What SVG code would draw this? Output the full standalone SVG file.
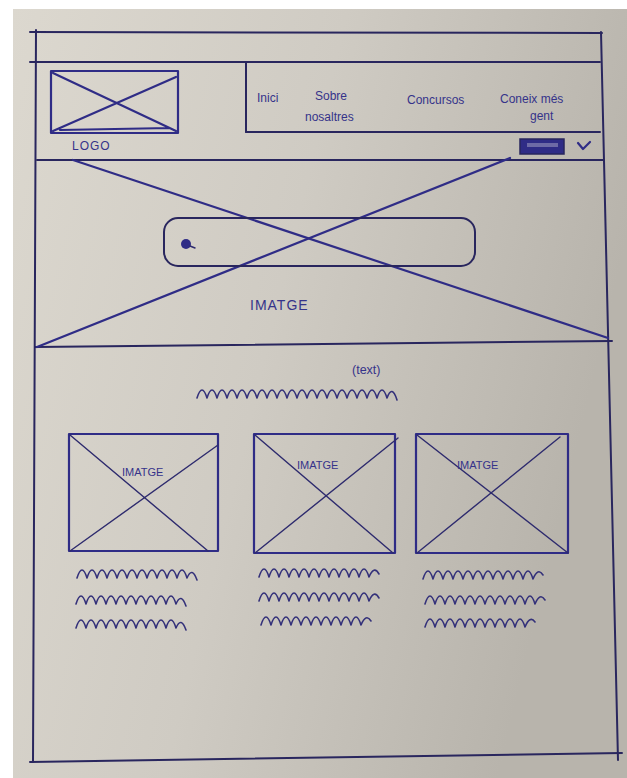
<svg xmlns="http://www.w3.org/2000/svg" width="627" height="778" viewBox="0 0 627 778">
<defs>
<linearGradient id="paper" x1="0" y1="0" x2="1" y2="0.3">
<stop offset="0" stop-color="#dcd8cf"/>
<stop offset="0.5" stop-color="#cfcbc3"/>
<stop offset="1" stop-color="#b8b4ac"/>
</linearGradient>
<style>
.ink{fill:none;stroke:#29265e;stroke-width:2;stroke-linecap:round;stroke-linejoin:round}
.thin{fill:none;stroke:#2e2b6e;stroke-width:1.4;stroke-linecap:round;stroke-linejoin:round}
.blue{fill:none;stroke:#2f2c86;stroke-width:2.2;stroke-linecap:round;stroke-linejoin:round}
.wave{fill:none;stroke:#34317a;stroke-width:1.6;stroke-linecap:round;stroke-linejoin:round}
.hand{font-family:"Liberation Sans","DejaVu Sans",sans-serif;fill:#35338a}
</style>
</defs>
<rect x="0" y="0" width="627" height="778" fill="#ffffff"/>
<rect x="13" y="9" width="614" height="769" fill="url(#paper)"/>

<g id="page-frame">
<path class="ink" d="M30 32 L602 33"/>
<path class="ink" d="M36 30 L33 762"/>
<path class="ink" d="M601 32 L618 760"/>
<path class="ink" d="M30 762 L622 753"/>
</g>

<g id="top-bar">
<path class="ink" d="M30 62 L600 62"/>
</g>

<g id="logo">
<rect class="blue" x="51" y="71" width="127" height="62"/>
<path class="blue" d="M53 73 L176 131 M53 131 L176 77 M60 130 L170 128"/>
<text class="hand" x="72" y="150" font-size="12" letter-spacing="1">LOGO</text>
</g>

<g id="nav-menu">
<path class="ink" d="M246 63 L246 132"/>
<path class="ink" d="M246 132 L600 132"/>
<text class="hand" x="257" y="102" font-size="12">Inici</text>
<text class="hand" x="315" y="100" font-size="12">Sobre</text>
<text class="hand" x="305" y="121" font-size="12">nosaltres</text>
<text class="hand" x="407" y="104" font-size="12">Concursos</text>
<text class="hand" x="500" y="103" font-size="12">Coneix més</text>
<text class="hand" x="530" y="120" font-size="12">gent</text>
</g>

<g id="language-selector">
<rect x="520" y="139" width="44" height="15" fill="#2f2c86" stroke="#29265e" stroke-width="1.5"/>
<rect x="527" y="143" width="31" height="4" fill="#6d6aa6"/>
<path class="blue" d="M578 143 L583 149 L590 142"/>
</g>

<g id="hero-image">
<path class="ink" d="M37 160 L603 160"/>
<path class="ink" d="M35 347 L612 341"/>
<path class="blue" d="M73 160 L608 338"/>
<path class="blue" d="M37 347 L510 158"/>
<text class="hand" x="250" y="310" font-size="14" letter-spacing="1">IMATGE</text>
</g>

<g id="search-bar">
<rect class="ink" x="164" y="218" width="311" height="48" rx="14"/>
<circle cx="186" cy="244" r="5" fill="#2f2c86"/>
<path class="thin" d="M190 246 L195 248"/>
</g>

<g id="intro-text">
<text class="hand" x="352" y="374" font-size="12.5">(text)</text>
<path class="wave" d="M197 398 q5 -16 10 0 q5 -16 10 0 q5 -16 10 0 q5 -16 10 0 q5 -16 10 0 q5 -16 10 0 q5 -16 10 0 q5 -16 10 0 q5 -16 10 0 q5 -16 10 0 q5 -16 10 0 q5 -16 10 0 q5 -16 10 0 q5 -16 10 0 q5 -16 10 0 q5 -16 10 0 q5 -16 10 0 q5 -16 10 0 q5 -16 10 0 q5 -14 10 2"/>
</g>

<g id="card-1">
<rect class="blue" x="69" y="434" width="149" height="117"/>
<path class="thin" d="M70 435 L208 551 M70 551 L218 445"/>
<text class="hand" x="122" y="476" font-size="11">IMATGE</text>
<path class="wave" d="M77 578 q5 -16 10 0 q5 -16 10 0 q5 -16 10 0 q5 -16 10 0 q5 -16 10 0 q5 -16 10 0 q5 -16 10 0 q5 -16 10 0 q5 -16 10 0 q5 -16 10 0 q5 -16 10 0 q5 -12 10 2"/>
<path class="wave" d="M76 604 q5 -16 10 0 q5 -16 10 0 q5 -16 10 0 q5 -16 10 0 q5 -16 10 0 q5 -16 10 0 q5 -16 10 0 q5 -16 10 0 q5 -16 10 0 q5 -16 10 0 q5 -12 10 2"/>
<path class="wave" d="M76 628 q5 -16 10 0 q5 -16 10 0 q5 -16 10 0 q5 -16 10 0 q5 -16 10 0 q5 -16 10 0 q5 -16 10 0 q5 -16 10 0 q5 -16 10 0 q5 -16 10 0 q5 -12 10 2"/>
</g>

<g id="card-2">
<rect class="blue" x="254" y="434" width="141" height="119"/>
<path class="thin" d="M255 435 L393 553 M255 553 L398 438"/>
<text class="hand" x="297" y="469" font-size="11">IMATGE</text>
<path class="wave" d="M259 577 q5 -16 10 0 q5 -16 10 0 q5 -16 10 0 q5 -16 10 0 q5 -16 10 0 q5 -16 10 0 q5 -16 10 0 q5 -16 10 0 q5 -16 10 0 q5 -16 10 0 q5 -16 10 0 q5 -12 10 -3"/>
<path class="wave" d="M259 601 q5 -16 10 0 q5 -16 10 0 q5 -16 10 0 q5 -16 10 0 q5 -16 10 0 q5 -16 10 0 q5 -16 10 0 q5 -16 10 0 q5 -16 10 0 q5 -16 10 0 q5 -16 10 0 q5 -12 10 -3"/>
<path class="wave" d="M261 625 q5 -16 10 0 q5 -16 10 0 q5 -16 10 0 q5 -16 10 0 q5 -16 10 0 q5 -16 10 0 q5 -16 10 0 q5 -16 10 0 q5 -16 10 0 q5 -16 10 0 q5 -12 10 -4"/>
</g>

<g id="card-3">
<rect class="blue" x="416" y="434" width="152" height="119"/>
<path class="thin" d="M417 435 L568 553 M417 553 L560 437"/>
<text class="hand" x="457" y="469" font-size="11">IMATGE</text>
<path class="wave" d="M423 579 q5 -16 10 0 q5 -16 10 0 q5 -16 10 0 q5 -16 10 0 q5 -16 10 0 q5 -16 10 0 q5 -16 10 0 q5 -16 10 0 q5 -16 10 0 q5 -16 10 0 q5 -16 10 0 q5 -12 10 -4"/>
<path class="wave" d="M425 604 q5 -16 10 0 q5 -16 10 0 q5 -16 10 0 q5 -16 10 0 q5 -16 10 0 q5 -16 10 0 q5 -16 10 0 q5 -16 10 0 q5 -16 10 0 q5 -16 10 0 q5 -16 10 0 q5 -12 10 -4"/>
<path class="wave" d="M425 627 q5 -16 10 0 q5 -16 10 0 q5 -16 10 0 q5 -16 10 0 q5 -16 10 0 q5 -16 10 0 q5 -16 10 0 q5 -16 10 0 q5 -16 10 0 q5 -16 10 0 q5 -12 10 -5"/>
</g>

<g id="connectors"></g>
</svg>
